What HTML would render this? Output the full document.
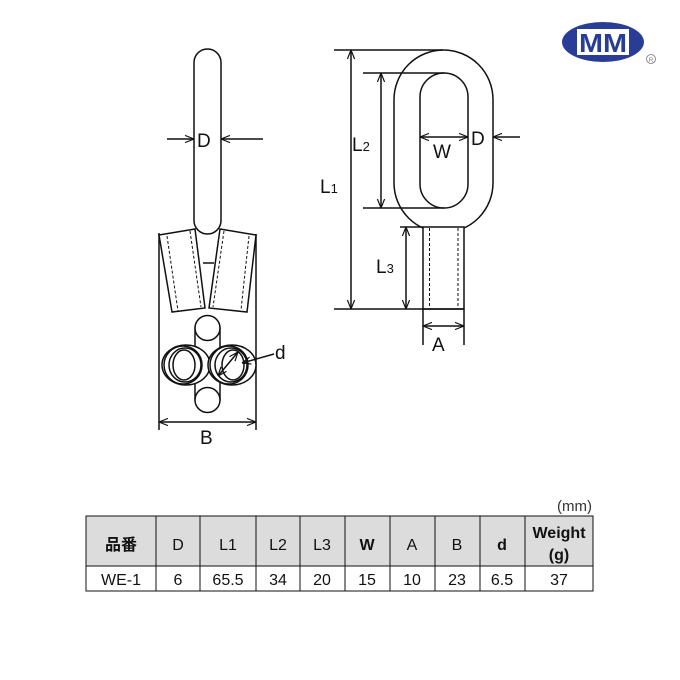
<!DOCTYPE html>
<html><head><meta charset="utf-8"><style>
html,body{margin:0;padding:0;background:#fff;}
svg{display:block;}
text{font-family:"Liberation Sans","Noto Sans CJK JP",sans-serif;fill:#111;}
</style></head><body>
<svg width="680" height="680" viewBox="0 0 680 680" xmlns="http://www.w3.org/2000/svg">
<defs>
<marker id="ar" viewBox="0 0 10 10" refX="10" refY="5" markerWidth="9" markerHeight="9" orient="auto-start-reverse" markerUnits="userSpaceOnUse"><path d="M0,1 L10,5 L0,9" fill="none" stroke="#111" stroke-width="1.3"/></marker>
</defs>
<g fill="none" stroke="#111" stroke-width="1.5">
<rect x="194" y="49" width="27" height="185" rx="13.5" fill="#fff"/>
<line x1="159" y1="233" x2="159" y2="430"/>
<line x1="256" y1="234" x2="256" y2="430"/>
<polygon points="159,235 195,229 205,308 172,312" fill="#fff"/>
<polygon points="220,229 256,235 247,312 209,308" fill="#fff"/>
<line x1="203" y1="263" x2="214" y2="263"/>
<g stroke-dasharray="3,2" stroke-width="1">
<line x1="167" y1="236" x2="178" y2="311"/>
<line x1="190" y1="231" x2="201" y2="307"/>
<line x1="224" y1="231" x2="213" y2="307"/>
<line x1="249" y1="236" x2="241" y2="310"/>
</g>
<rect x="195" y="328" width="25" height="72" fill="#fff"/>
<circle cx="207.5" cy="328" r="12.5" fill="#fff"/>
<circle cx="207.5" cy="400" r="12.5" fill="#fff"/>
<ellipse cx="186" cy="365" rx="24" ry="20" fill="#fff"/>
<ellipse cx="183" cy="365" rx="19" ry="19"/>
<ellipse cx="185" cy="365" rx="16" ry="17"/>
<ellipse cx="184" cy="365" rx="11" ry="15"/>
<ellipse cx="232" cy="365" rx="24" ry="20" fill="#fff"/>
<ellipse cx="229" cy="365" rx="19" ry="19"/>
<ellipse cx="231" cy="365" rx="16" ry="17"/>
<ellipse cx="233" cy="365" rx="11" ry="15"/>
<line x1="218" y1="376" x2="238" y2="352" marker-start="url(#ar)" marker-end="url(#ar)"/>
<line x1="274" y1="354" x2="242" y2="363" marker-end="url(#ar)"/>
<line x1="167" y1="139" x2="194" y2="139" marker-end="url(#ar)"/>
<line x1="263" y1="139" x2="221" y2="139" marker-end="url(#ar)"/>
<line x1="159" y1="422" x2="256" y2="422" marker-start="url(#ar)" marker-end="url(#ar)"/>

<path d="M394,99.5 A49.5,49.5 0 0 1 493,99.5 L493,183 A49.5,49.5 0 0 1 394,183 Z" fill="#fff"/>
<rect x="420" y="73" width="48" height="135" rx="24" fill="#fff"/>
<rect x="423" y="227" width="41" height="82" fill="#fff"/>
<g stroke-dasharray="3,2" stroke-width="1">
<line x1="429.5" y1="228" x2="429.5" y2="308"/>
<line x1="458" y1="228" x2="458" y2="308"/>
</g>
<line x1="334" y1="50" x2="443" y2="50"/>
<line x1="334" y1="309" x2="464" y2="309"/>
<line x1="363" y1="73" x2="444" y2="73"/>
<line x1="363" y1="208" x2="444" y2="208"/>
<line x1="400" y1="227" x2="423" y2="227"/>
<line x1="351" y1="50" x2="351" y2="309" marker-start="url(#ar)" marker-end="url(#ar)"/>
<line x1="381" y1="73" x2="381" y2="208" marker-start="url(#ar)" marker-end="url(#ar)"/>
<line x1="406" y1="227" x2="406" y2="309" marker-start="url(#ar)" marker-end="url(#ar)"/>
<line x1="423" y1="309" x2="423" y2="345"/>
<line x1="464" y1="309" x2="464" y2="345"/>
<line x1="423" y1="326" x2="464" y2="326" marker-start="url(#ar)" marker-end="url(#ar)"/>
<line x1="420" y1="137" x2="468" y2="137" marker-start="url(#ar)" marker-end="url(#ar)"/>
<line x1="520" y1="137" x2="493" y2="137" marker-end="url(#ar)"/>
</g>
<g font-size="19">
<text x="197" y="147">D</text>
<text x="275" y="359">d</text>
<text x="200" y="444">B</text>
<text x="471" y="145">D</text>
<text x="433" y="158">W</text>
<text x="352" y="151">L<tspan font-size="13">2</tspan></text>
<text x="320" y="193">L<tspan font-size="13">1</tspan></text>
<text x="376" y="273">L<tspan font-size="13">3</tspan></text>
<text x="432" y="351">A</text>
</g>
<ellipse cx="603" cy="42" rx="41" ry="20" fill="#2a3d96"/>
<rect x="577" y="29" width="52" height="26" fill="#fff"/>
<text x="603" y="52" text-anchor="middle" font-size="26" font-weight="bold" style="fill:#2a3d96" textLength="48" lengthAdjust="spacingAndGlyphs">MM</text>
<circle cx="651" cy="59" r="4.5" fill="none" stroke="#777" stroke-width="0.8"/>
<text x="651" y="62" text-anchor="middle" font-size="6" style="fill:#777">R</text>

<text x="592" y="511" text-anchor="end" font-size="15" style="fill:#333">(mm)</text>
<rect x="86" y="516" width="507" height="50" fill="#dcdcdc"/>
<g stroke="#111" stroke-width="1" fill="none">
<rect x="86" y="516" width="507" height="75"/>
<line x1="86" y1="566" x2="593" y2="566"/>
<line x1="156" y1="516" x2="156" y2="591"/><line x1="200" y1="516" x2="200" y2="591"/>
<line x1="256" y1="516" x2="256" y2="591"/><line x1="300" y1="516" x2="300" y2="591"/>
<line x1="345" y1="516" x2="345" y2="591"/><line x1="390" y1="516" x2="390" y2="591"/>
<line x1="435" y1="516" x2="435" y2="591"/><line x1="480" y1="516" x2="480" y2="591"/>
<line x1="525" y1="516" x2="525" y2="591"/>
</g>
<g font-size="16" text-anchor="middle">
<text x="121" y="550" font-weight="bold">品番</text>
<text x="178" y="550">D</text><text x="228" y="550">L1</text><text x="278" y="550">L2</text>
<text x="322" y="550">L3</text><text x="367" y="550" font-weight="bold">W</text><text x="412" y="550">A</text>
<text x="457" y="550">B</text><text x="502" y="550" font-weight="bold">d</text>
<text x="559" y="538" font-weight="bold">Weight</text><text x="559" y="560" font-weight="bold">(g)</text>
<text x="121" y="585">WE-1</text><text x="178" y="585">6</text><text x="228" y="585">65.5</text>
<text x="278" y="585">34</text><text x="322" y="585">20</text><text x="367" y="585">15</text>
<text x="412" y="585">10</text><text x="457" y="585">23</text><text x="502" y="585">6.5</text>
<text x="559" y="585">37</text>
</g>
</svg>
</body></html>
